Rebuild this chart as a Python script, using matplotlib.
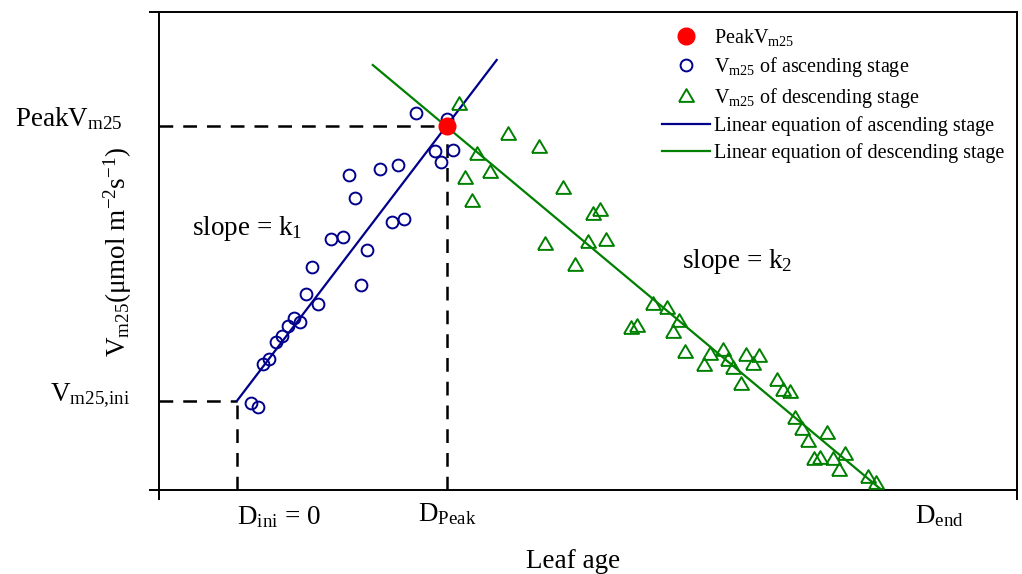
import matplotlib

matplotlib.use("Agg")
import matplotlib.pyplot as plt
import matplotlib.transforms as mtransforms

plt.rcParams["font.family"] = ["Liberation Serif", "DejaVu Serif"]
plt.rcParams["mathtext.fontset"] = "custom"
plt.rcParams["mathtext.rm"] = "Liberation Serif"
plt.rcParams["mathtext.it"] = "Liberation Serif:italic"

# leaf age (days, D_ini = 0) and Vm25
asc_x = [2.0, 3.0, 3.71, 4.57, 5.57, 6.43, 7.29, 9.0, 8.14, 11.57, 9.86, 17.71, 10.71,
         18.57, 15.14, 13.43, 23.86, 22.14, 16.86, 23.0, 20.43, 16.0, 29.14, 30.86,
         28.29, 30.0, 25.57]
asc_y = [19.1, 18.2, 27.7, 28.8, 32.5, 33.9, 36.0, 36.9, 37.8, 40.9, 43.1, 45.1, 49.0,
         52.8, 55.6, 55.2, 59.6, 58.9, 64.2, 71.4, 70.6, 69.2, 72.1, 74.7,
         74.5, 81.5, 82.9]

desc_x = [31.71, 38.71, 43.14, 34.29, 36.14, 32.57, 33.57, 46.57, 50.86, 51.86, 44.0,
          50.14, 52.71, 48.29, 59.43, 61.43, 63.14, 62.29, 56.29, 57.14, 64.0, 67.57,
          69.43, 66.71, 70.14, 70.86, 72.0, 72.71, 74.57, 73.71, 77.14, 78.0, 79.0,
          79.71, 80.71, 81.57, 84.29, 82.43, 83.29, 85.14, 86.86, 86.0, 90.14, 91.29]
desc_y = [85.1, 78.5, 75.6, 74.1, 70.1, 68.8, 63.7, 66.6, 60.9, 61.8, 54.3,
          54.7, 55.2, 49.7, 41.1, 40.2, 37.4, 35.0, 35.8, 36.3, 30.6, 30.1,
          31.0, 27.7, 28.8, 27.0, 23.5, 29.9, 29.7, 27.9, 24.4, 22.2, 21.8,
          16.0, 13.6, 11.0, 12.8, 7.0, 7.3, 7.0, 8.1, 4.6, 3.1, 1.8]

# fitted lines (end points)
asc_fit_x = [0.0, 37.1]
asc_fit_y = [19.6, 94.5]
desc_fit_x = [19.4, 92.1]
desc_fit_y = [93.4, 0.0]

d_ini = 0.0
d_peak = 30.0
d_end = 100.4
peak_v = 80.0
v_ini = 19.6

x_lim = (-11.14, 111.43)
y_lim = (0.0, 105.05)

BLUE = "#00008b"
GREEN = "#008000"
RED = "#ff0000"

fig = plt.figure(figsize=(10.22, 5.74), dpi=100)
ax = fig.add_axes([159 / 1022, 84 / 574, 858 / 1022, 478 / 574])

dash = dict(color="black", lw=1.8, dashes=(5.5, 4), zorder=1)
ax.plot([x_lim[0], d_peak], [peak_v, peak_v], **dash)
ax.plot([d_peak, d_peak], [0, peak_v], **dash)
ax.plot([x_lim[0], d_ini], [v_ini, v_ini], **dash)
ax.plot([d_ini, d_ini], [0, v_ini], **dash)

ax.plot(asc_x, asc_y, ls="none", marker="o", ms=8.5, mfc="none", mec=BLUE, mew=1.4,
        zorder=3, label=r"V$_{\mathregular{m25}}$ of ascending stage")
tri = [(-1, -0.85), (1, -0.85), (0, 0.85), (-1, -0.85)]
ax.plot(desc_x, desc_y, ls="none", marker=tri, ms=10.8, mfc="none", mec=GREEN, mew=1.4,
        zorder=3, label=r"V$_{\mathregular{m25}}$ of descending stage")
ax.plot(asc_fit_x, asc_fit_y, color=BLUE, lw=1.6, zorder=2,
        label="Linear equation of ascending stage")
ax.plot(desc_fit_x, desc_fit_y, color=GREEN, lw=1.6, zorder=2,
        label="Linear equation of descending stage")
ax.plot([d_peak], [peak_v], ls="none", marker="o", ms=12, color=RED, zorder=5,
        label=r"PeakV$_{\mathregular{m25}}$")

handles, labels = ax.get_legend_handles_labels()
order = [4, 0, 1, 2, 3]
leg = ax.legend([handles[i] for i in order], [labels[i] for i in order],
                loc="upper left", bbox_to_anchor=(0.586, 0.969), frameon=False,
                fontsize=14.5, handlelength=2.4, handletextpad=0.2,
                labelspacing=0.34, borderpad=0, borderaxespad=0)

ax.set_xlim(*x_lim)
ax.set_ylim(*y_lim)
for side in ["left", "right", "top", "bottom"]:
    ax.spines[side].set_linewidth(1.4)
ax.set_xticks(list(x_lim))
ax.set_yticks(list(y_lim))
ax.tick_params(direction="out", length=7.2, width=1.4, labelbottom=False, labelleft=False)

# axis annotations
ax.text(d_ini, -3.2, r"D$_{\mathregular{ini}}$ = 0", fontsize=19.5, ha="left", va="top")
ax.text(d_peak, -2.4, r"D$_{\mathregular{Peak}}$", fontsize=19.5, ha="center", va="top")
ax.text(d_end, -3.0, r"D$_{\mathregular{end}}$", fontsize=19.5, ha="center", va="top")

yt = mtransforms.blended_transform_factory(fig.transFigure, ax.transData)
ax.text(15 / 1022, peak_v, r"PeakV$_{\mathregular{m25}}$", fontsize=19.5, transform=yt,
        ha="left", va="baseline")
ax.text(50 / 1022, v_ini, r"V$_{\mathregular{m25{,}ini}}$", fontsize=19.5, transform=yt,
        ha="left", va="baseline")

ax.text(-6.43, 56.0, r"slope = k$_{\mathregular{1}}$", fontsize=19.5, ha="left", va="baseline")
ax.text(63.57, 48.8, r"slope = k$_{\mathregular{2}}$", fontsize=19.5, ha="left", va="baseline")

fig.text(573 / 1022, 6 / 574, "Leaf age", fontsize=19.5, ha="center", va="baseline")
fig.text(118 / 1022, 1 - 252 / 574, r"V$_{\mathregular{m25}}$(μmol m$^{\mathregular{-2}}$s$^{\mathregular{-1}}$)",
         fontsize=19.5, rotation=90, ha="center", va="center")

fig.savefig("out.png", dpi=100)
